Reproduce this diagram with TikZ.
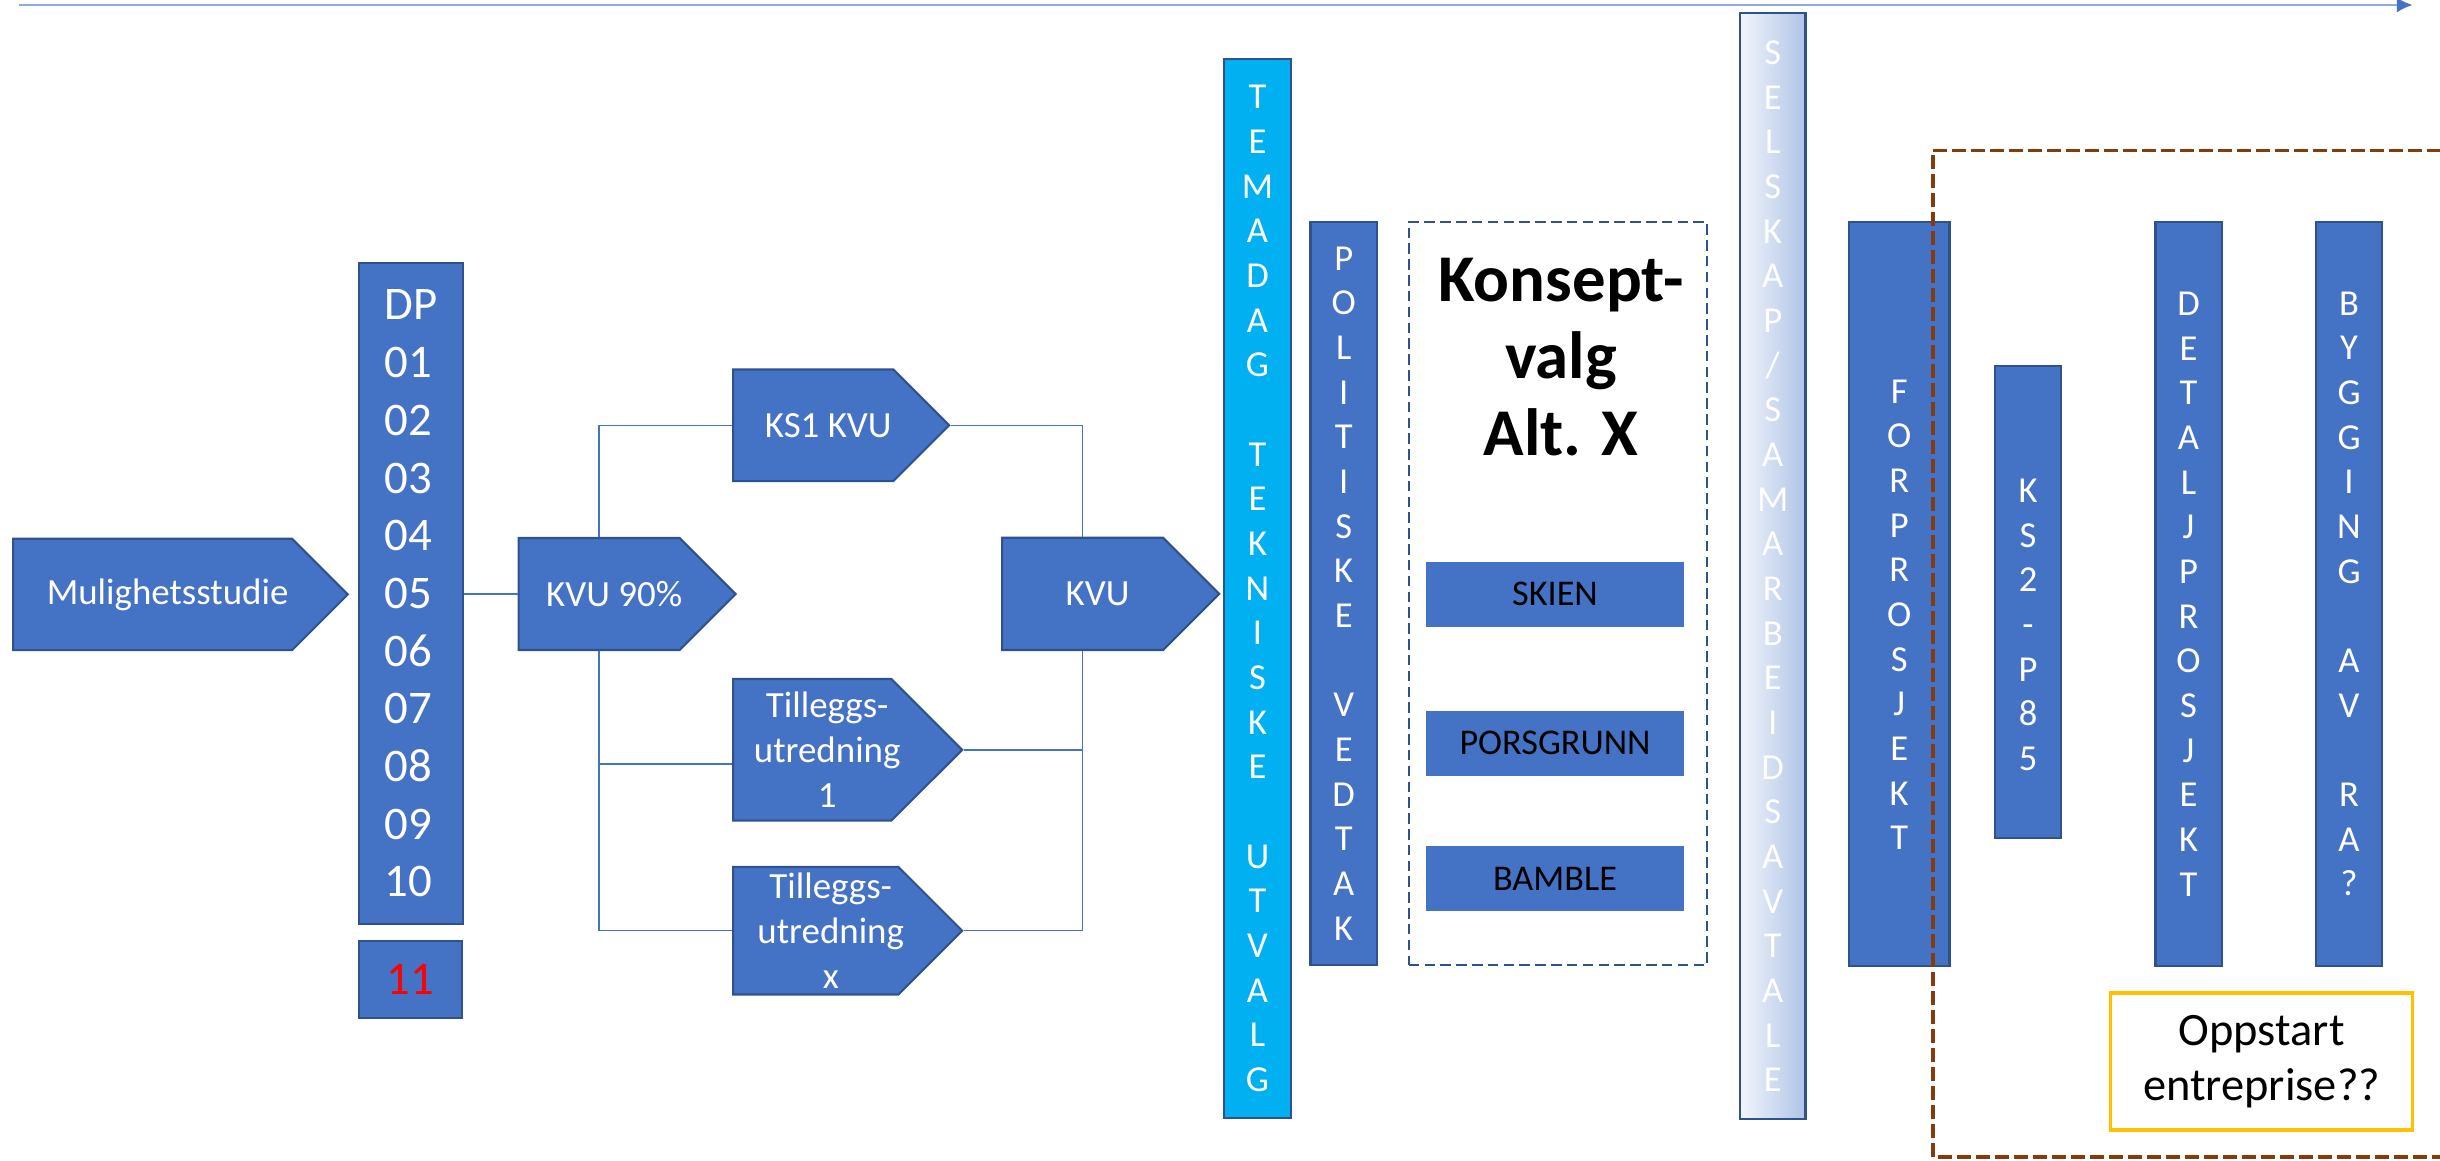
\documentclass[tikz,border=0pt]{standalone}
\usepackage{fontspec}
\setmainfont{Carlito}
\usetikzlibrary{arrows.meta,shapes.symbols}

\definecolor{boxblue}{HTML}{4472C4}
\definecolor{edgeblue}{HTML}{2F528F}
\definecolor{skyblue}{HTML}{00B0F0}
\definecolor{timeblue}{HTML}{8FAADC}
\definecolor{paleleft}{HTML}{F2F5FB}
\definecolor{paleright}{HTML}{AFC3E6}
\definecolor{gold}{HTML}{FFC000}
\definecolor{rust}{HTML}{843C0C}

% text in the arrow boxes sits a bit right of the box middle
\newcommand{\arrowtext}[1]{\makebox[1.2cm]{\hspace*{0.3cm}#1}}

\begin{document}
\begin{tikzpicture}[x=0.01cm,y=-0.01cm,
  phase/.style={shape=signal, signal to=east, signal from=nowhere, signal pointer angle=90,
    fill=boxblue, draw=edgeblue, line width=0.6pt, text=white, inner sep=0pt, anchor=west,
    align=center, font=\fontsize{10.5}{12.8}\selectfont},
  bar/.style={rectangle, fill=boxblue, draw=edgeblue, line width=0.6pt, text=white,
    inner sep=0pt, align=center, font=\fontsize{10.4}{12.7}\selectfont},
  town/.style={rectangle, fill=boxblue, inner sep=0pt, minimum width=2.58cm,
    minimum height=0.645cm, font=\fontsize{10.3}{12}\selectfont},
  link/.style={draw=boxblue, line width=0.4pt}]

\useasboundingbox (0,0) rectangle (2440,1161);

% time line
\coordinate (tstart) at (19,5);
\coordinate (tend) at (2412.6,5);
\draw [timeblue, line width=0.6pt, -{Latex[length=4.5pt,width=4.3pt,color=boxblue]}] (tstart) -- (tend);

% KVU phase
\node [phase, minimum width=3.346cm, minimum height=1.113cm] (mulig) at (12,594.4) {\arrowtext{Mulighetsstudie}};
\node [bar, minimum width=1.04cm, minimum height=6.61cm, align=left, font=\fontsize{13.3}{16.4}\selectfont] (dp) at (411,593.5) {DP\\01\\02\\03\\04\\05\\06\\07\\08\\09\\10};
\node [bar, minimum width=1.03cm, minimum height=0.77cm, text=red, font=\fontsize{13.3}{16.4}\selectfont] (dp11) at (410.5,979.5) {11};
\node [phase, minimum width=2.17cm, minimum height=1.12cm] (kvu90) at (517.5,594) {\arrowtext{KVU 90\%}};
\node [phase, minimum width=2.16cm, minimum height=1.115cm] (ks1) at (732,425.3) {\arrowtext{KS1 KVU}};
\node [phase, minimum width=2.29cm, minimum height=1.416cm] (till1) at (732,749.8) {\arrowtext{Tilleggs-}\\\arrowtext{utredning}\\\arrowtext{1}};
\node [phase, minimum width=2.29cm, minimum height=1.275cm] (tillx) at (732,930.7) {\arrowtext{Tilleggs-}\\\arrowtext{utredning}\\\arrowtext{x}};
\node [phase, minimum width=2.17cm, minimum height=1.122cm] (kvu) at (1001,593.9) {\arrowtext{KVU}};

\draw [link] (dp.east |- kvu90.west) -- (kvu90.west);
\draw [link] (kvu90.north) |- (ks1.west);
\draw [link] (kvu90.south) |- (tillx.west);
\draw [link] ([yshift=-0.14cm]till1.west) -- ([yshift=-0.14cm]till1.west -| kvu90.south);
\draw [link] (ks1.east) -| (kvu.north);
\draw [link] (kvu.south) |- (tillx.east);
\draw [link] (till1.east) -- (till1.east -| kvu.south);

% decisions
\node [bar, fill=skyblue, minimum width=0.67cm, minimum height=10.59cm] (temadag) at (1257.5,588.5) {T\\E\\M\\A\\D\\A\\G\\[12.7pt]T\\E\\K\\N\\I\\S\\K\\E\\[12.7pt]U\\T\\V\\A\\L\\G};
\node [bar, minimum width=0.665cm, minimum height=7.43cm] (vedtak) at (1343.7,593.5) {P\\O\\L\\I\\T\\I\\S\\K\\E\\[12.7pt]V\\E\\D\\T\\A\\K};

\node [draw=edgeblue, line width=0.6pt, dash pattern=on 3pt off 1.5pt, minimum width=2.985cm, minimum height=7.42cm] (valg) at (1558,593.5) {};
\node [inner sep=0pt, anchor=north, align=center, font=\bfseries\fontsize{19}{21.9}\selectfont] (konsept) at (1561,257) {Konsept-\\valg\\Alt. X};
\node [town] (skien) at (1555,594.3) {SKIEN};
\node [town] (porsgrunn) at (1555,743.3) {PORSGRUNN};
\node [town] (bamble) at (1555,878.4) {BAMBLE};

\node [bar, left color=paleleft, right color=paleright, minimum width=0.655cm, minimum height=11.055cm] (avtale) at (1772.7,566.3) {S\\E\\L\\S\\K\\A\\P\\/\\S\\A\\M\\A\\R\\B\\E\\I\\D\\S\\A\\V\\T\\A\\L\\E};

% project phases
\node [bar, minimum width=1.005cm, minimum height=7.44cm] (forprosjekt) at (1899.2,594) {\rule{0pt}{0.65cm}F\\O\\R\\P\\R\\O\\S\\J\\E\\K\\T};
\node [bar, minimum width=0.66cm, minimum height=4.72cm] (ks2) at (2028,602) {\rule{0pt}{0.69cm}K\\S\\2\\-\\P\\8\\5};
\node [bar, minimum width=0.66cm, minimum height=7.44cm] (detalj) at (2188.5,594) {D\\E\\T\\A\\L\\J\\P\\R\\O\\S\\J\\E\\K\\T};
\node [bar, minimum width=0.66cm, minimum height=7.44cm] (bygging) at (2349,594) {B\\Y\\G\\G\\I\\N\\G\\[12.7pt]A\\V\\[12.7pt]R\\A\\?};

\draw [rust, line width=0.95pt, dash pattern=on 4pt off 1.4pt] (2460,150.7) -- (1933,150.7) -- (1933,1157) -- (2460,1157);

\node [draw=gold, line width=1pt, minimum width=3.02cm, minimum height=1.37cm, align=center, font=\fontsize{13.2}{15.6}\selectfont] (oppstart) at (2261.6,1061.5) {Oppstart\\entreprise??};

\end{tikzpicture}
\end{document}
